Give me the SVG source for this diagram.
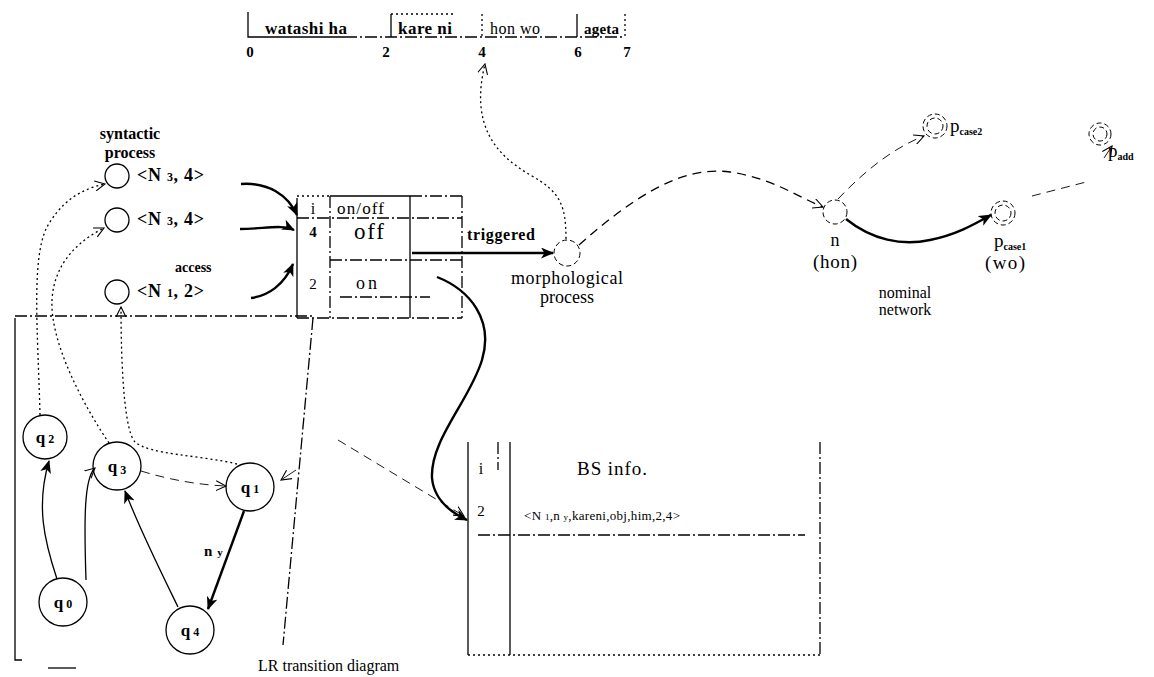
<svg xmlns="http://www.w3.org/2000/svg" width="1154" height="677" viewBox="0 0 1154 677">
<defs>
<marker id="ah" markerUnits="userSpaceOnUse" markerWidth="13" markerHeight="11" refX="12" refY="5.5" orient="auto"><path d="M0,0 L13,5.5 L0,11 L3.5,5.5 z" fill="#000"/></marker>
<marker id="ao" markerUnits="userSpaceOnUse" markerWidth="11" markerHeight="11" refX="10" refY="5.5" orient="auto"><path d="M0,0.5 L10,5.5 L0,10.5" fill="none" stroke="#000" stroke-width="1.1"/></marker>
</defs>
<style>
text{font-family:"Liberation Serif",serif;fill:#000}
.b{font-weight:bold}
.ln{fill:none;stroke:#000;stroke-width:1.3}
.th{stroke-width:2.4}
.dot{stroke-dasharray:2 3}
.dash{stroke-dasharray:9 6}
.dd{stroke-dasharray:12 3 2 3}
.thin{stroke-width:0.9}
.circ{fill:#fff;stroke:#000;stroke-width:1.3}
.gc{fill:none;stroke:#000;stroke-width:1;stroke-dasharray:5 3}
.sub{font-size:10px}
</style>
<rect width="1154" height="677" fill="#fff"/>

<g id="ruler">
<path class="ln" d="M248,12 V37 H345"/>
<path class="ln dd" d="M345,37 H625"/>
<path class="ln" d="M391,14 V37"/>
<path class="ln dot" d="M391,14 H455"/>
<path class="ln dot" d="M482,14 V37"/>
<path class="ln" d="M577,14 V37"/>
<path class="ln dot" d="M625,14 V37"/>
<text class="b" x="265" y="34" font-size="17" textLength="82">watashi ha</text>
<text class="b" x="398" y="34" font-size="17" textLength="54">kare ni</text>
<text x="490" y="34" font-size="16" textLength="50">hon wo</text>
<text class="b" x="584" y="34" font-size="15" textLength="35">ageta</text>
<g class="b" font-size="15" text-anchor="middle">
<text x="250" y="57">0</text><text x="386" y="57">2</text><text x="482" y="57">4</text><text x="578" y="57">6</text><text x="627" y="57">7</text>
</g>
</g>

<g id="syntactic-process">
<text class="b" x="130" y="139" font-size="16" text-anchor="middle">syntactic</text>
<text class="b" x="130" y="158" font-size="16" text-anchor="middle">process</text>
</g>
<g id="N3a">
<circle class="circ" cx="117" cy="176" r="12"/>
<text class="b" x="137" y="181" font-size="18" textLength="67">&lt;N <tspan font-size="12">3</tspan>, 4&gt;</text>
</g>
<g id="N3b">
<circle class="circ" cx="117" cy="220" r="12"/>
<text class="b" x="137" y="225" font-size="18" textLength="67">&lt;N <tspan font-size="12">3</tspan>, 4&gt;</text>
</g>
<g id="N1">
<circle class="circ" cx="117" cy="292" r="12"/>
<text class="b" x="137" y="297" font-size="18" textLength="67">&lt;N <tspan font-size="12">1</tspan>, 2&gt;</text>
</g>
<text class="b" x="175" y="272" font-size="14">access</text>

<g id="table">
<path class="ln" d="M297,198 V318"/>
<path class="ln dd" d="M330,196 V318"/>
<path class="ln" d="M410,196 V318"/>
<path class="ln dd" d="M462,196 V318"/>
<path class="ln" d="M330,196 H410"/>
<path class="ln dot" d="M297,196 H330"/>
<path class="ln dd" d="M410,196 H462"/>
<path class="ln dd" d="M297,218 H462"/>
<path class="ln dd" d="M330,260 H462"/>
<path class="ln dd" d="M340,297 H430"/>
<path class="ln dd" d="M297,318 H462"/>
<text x="313" y="214" font-size="16" text-anchor="middle">i</text>
<text x="337" y="214" font-size="17" textLength="47">on/off</text>
<text class="b" x="313" y="237" font-size="15" text-anchor="middle">4</text>
<text x="354" y="239" font-size="23" textLength="30">off</text>
<text x="313" y="289" font-size="15" text-anchor="middle">2</text>
<text x="356" y="289" font-size="18" textLength="21">on</text>
</g>
<text class="b" x="467" y="240" font-size="16" textLength="68">triggered</text>

<g id="morphological">
<circle class="gc" cx="567" cy="253" r="13"/>
<text x="567" y="284" font-size="18" text-anchor="middle" textLength="112">morphological</text>
<text x="567" y="303" font-size="18" text-anchor="middle">process</text>
</g>

<g id="n-node">
<circle class="gc" cx="835" cy="212" r="12"/>
<text x="835" y="246" font-size="18" text-anchor="middle">n</text>
<text x="835" y="268" font-size="19" text-anchor="middle" textLength="44">(hon)</text>
</g>
<g id="pcase2">
<circle class="gc" cx="935" cy="126" r="12"/>
<circle class="gc" cx="935" cy="126" r="8"/>
<text x="950" y="132" font-size="19">p<tspan class="sub b" dy="3">case2</tspan></text>
</g>
<g id="pcase1">
<circle class="gc" cx="1003" cy="213" r="12"/>
<circle class="gc" cx="1003" cy="213" r="8"/>
<text x="994" y="247" font-size="19">p<tspan class="sub b" dy="3">case1</tspan></text>
<text x="1005" y="269" font-size="19" text-anchor="middle" textLength="40">(wo)</text>
</g>
<g id="padd">
<circle class="gc" cx="1100" cy="134" r="11"/>
<circle class="gc" cx="1100" cy="134" r="7"/>
<text x="1108" y="157" font-size="19">p<tspan class="sub b" dy="3">add</tspan></text>
</g>
<g id="nominal-network">
<text x="905" y="298" font-size="16" text-anchor="middle">nominal</text>
<text x="905" y="315" font-size="16" text-anchor="middle">network</text>
</g>

<g id="bs-table">
<path class="ln" d="M468,442 V655"/>
<path class="ln dd" d="M498,442 V470"/>
<path class="ln" d="M510,442 V655"/>
<path class="ln dd" d="M820,442 V655"/>
<path class="ln dot" d="M468,655 H820"/>
<path class="ln dd" d="M478,535 H805"/>
<text x="481" y="474" font-size="16" text-anchor="middle">i</text>
<text x="577" y="475" font-size="19" textLength="70">BS info.</text>
<text x="481" y="516" font-size="15" text-anchor="middle">2</text>
<text x="524" y="520" font-size="13" textLength="156">&lt;N <tspan font-size="9">1</tspan>,n <tspan font-size="9">y</tspan>,kareni,obj,him,2,4&gt;</text>
</g>

<g id="lr-diagram">
<path class="ln" d="M15,318 V660 H22"/>
<path class="ln dd" d="M15,316 H313"/>
<path class="ln dd" d="M313,318 L283,645"/>
<path class="ln" d="M48,668 H76"/>
<text x="258" y="671" font-size="16">LR transition diagram</text>
</g>
<g id="q2"><circle class="circ" cx="45" cy="437" r="22"/><text class="b" x="45" y="443" font-size="17" text-anchor="middle">q<tspan font-size="12"> 2</tspan></text></g>
<g id="q3"><circle class="circ" cx="117" cy="466" r="24"/><text class="b" x="117" y="472" font-size="17" text-anchor="middle">q<tspan font-size="12" dy="2"> 3</tspan></text></g>
<g id="q1"><circle class="circ" cx="250" cy="487" r="24"/><text class="b" x="250" y="493" font-size="17" text-anchor="middle">q<tspan font-size="12"> 1</tspan></text></g>
<g id="q0"><circle class="circ" cx="63" cy="602" r="24"/><text class="b" x="63" y="608" font-size="17" text-anchor="middle">q<tspan font-size="12"> 0</tspan></text></g>
<g id="q4"><circle class="circ" cx="190" cy="630" r="24"/><text class="b" x="190" y="636" font-size="17" text-anchor="middle">q<tspan font-size="12"> 4</tspan></text></g>
<text class="b" x="204" y="556" font-size="15">n<tspan font-size="11" dx="5">y</tspan></text>

<g id="connectors">
<path class="ln th" marker-end="url(#ah)" d="M241,184 C268,182 288,195 297,215"/>
<path class="ln th" marker-end="url(#ah)" d="M240,229 C264,229 282,224 294,230"/>
<path class="ln th" marker-end="url(#ah)" d="M251,298 C268,296 284,285 293,264"/>
<path class="ln th" marker-end="url(#ah)" d="M412,253 H553"/>
<path class="ln dot" marker-end="url(#ao)" d="M566,239 C566,205 560,192 532,176 C495,155 470,125 485,64"/>
<path class="ln dash" marker-end="url(#ao)" d="M579,245 C630,200 680,165 730,172 C772,178 800,198 823,207"/>
<path class="ln th" marker-end="url(#ah)" d="M846,219 C872,240 902,246 930,240 C956,235 975,224 991,215"/>
<path class="ln thin dash" marker-end="url(#ao)" d="M838,199 C858,178 888,150 924,136"/>
<path class="ln thin dash" d="M1032,196 L1090,181"/>
<path class="ln thin" marker-end="url(#ao)" d="M1104,158 L1112,146"/>
<path class="ln th" marker-end="url(#ah)" d="M437,277 C470,290 494,320 482,360 C470,400 430,440 432,478 C434,500 450,512 467,520"/>
<path class="ln thin dash" marker-end="url(#ao)" d="M338,440 L464,516"/>
<path class="ln" marker-end="url(#ah)" d="M57,579 C44,540 36,505 49,461"/>
<path class="ln" marker-end="url(#ao)" d="M86,580 C84,520 84,478 95,468"/>
<path class="ln dash thin" marker-end="url(#ao)" d="M141,471 C170,480 200,485 226,486"/>
<path class="ln" marker-end="url(#ah)" d="M178,607 C160,570 140,530 125,491"/>
<path class="ln th" marker-end="url(#ah)" d="M244,511 L208,609"/>
<path class="ln thin" marker-end="url(#ao)" d="M296,470 L281,480"/>
<path class="ln dot" marker-end="url(#ao)" d="M237,464 C200,455 150,455 135,442 C122,428 121,340 121,307"/>
<path class="ln dot" marker-end="url(#ao)" d="M109,443 C80,400 50,340 52,300 C54,262 80,240 104,228"/>
<path class="ln dot" marker-end="url(#ao)" d="M40,415 C38,330 30,250 50,222 C65,198 85,188 105,184"/>
</g>
</svg>
